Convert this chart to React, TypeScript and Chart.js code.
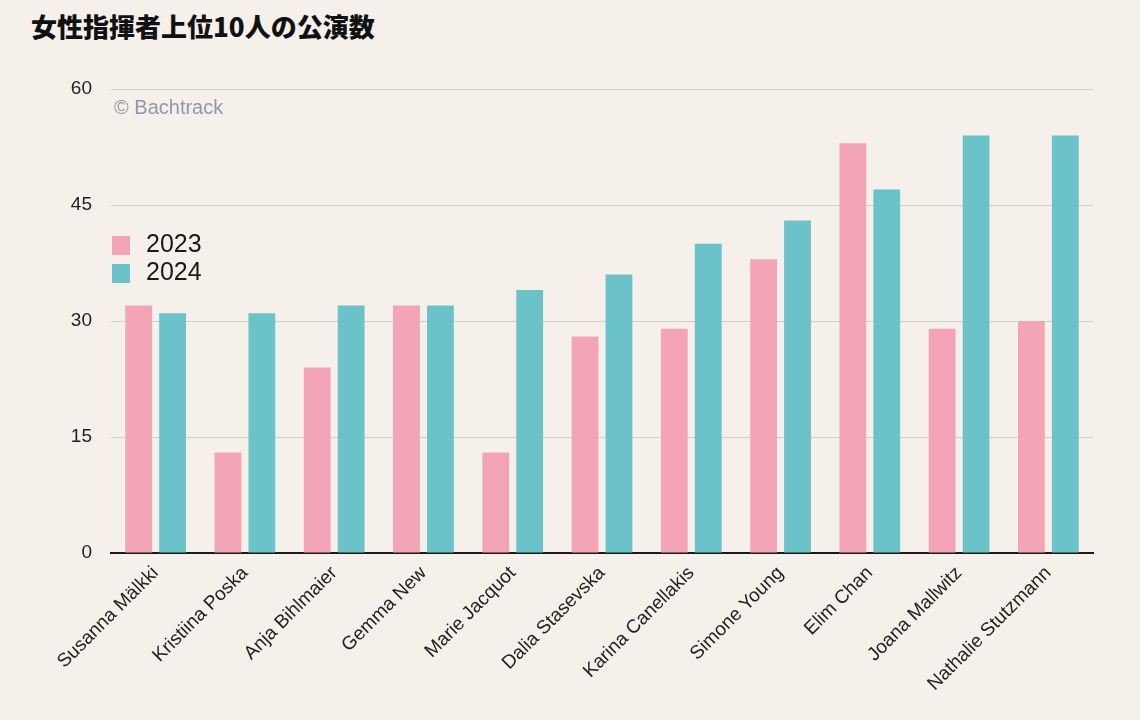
import React, { useEffect, useRef } from "react";
import { Chart, registerables } from "chart.js";

Chart.register(...registerables);

const TITLE = "女性指揮者上位10人の公演数";
const CONDUCTORS = [
  "Susanna Mälkki",
  "Kristiina Poska",
  "Anja Bihlmaier",
  "Gemma New",
  "Marie Jacquot",
  "Dalia Stasevska",
  "Karina Canellakis",
  "Simone Young",
  "Elim Chan",
  "Joana Mallwitz",
  "Nathalie Stutzmann",
];
const PERF_2023 = [32, 13, 24, 32, 13, 28, 29, 38, 53, 29, 30];
const PERF_2024 = [31, 31, 32, 32, 34, 36, 40, 43, 47, 54, 54];
const SERIES_LABELS = ["2023", "2024"];
const Y_TICKS = [0, 15, 30, 45, 60];
const WATERMARK = "© Bachtrack";

const BG = "#f5f1ea";
const PINK = "#f4a5b5";
const TEAL = "#6cc2c9";
const FONT = "'Liberation Sans', Arial, sans-serif";

const legendWatermarkPlugin = {
  id: "legendWatermark",
  afterDatasetsDraw(chart: any) {
    const { ctx, chartArea } = chart;
    ctx.save();
    // watermark
    ctx.fillStyle = "#9497a6";
    ctx.font = `20px ${FONT}`;
    ctx.textAlign = "left";
    ctx.textBaseline = "middle";
    ctx.fillText(WATERMARK, chartArea.left + 3, chartArea.top + 19);
    // legend
    const ds = chart.data.datasets;
    ctx.font = `25px ${FONT}`;
    for (let i = 0; i < ds.length; i++) {
      const y = chartArea.top + 156 + i * 28;
      ctx.fillStyle = ds[i].backgroundColor;
      ctx.fillRect(chartArea.left + 1, y - 9, 18, 19);
      ctx.fillStyle = "#1a1a1a";
      ctx.fillText(ds[i].label, chartArea.left + 35, y);
    }
    ctx.restore();
  },
};

export default function App() {
  const ref = useRef<HTMLCanvasElement | null>(null);

  useEffect(() => {
    document.body.style.margin = "0";
    document.body.style.background = BG;
    const canvas = ref.current;
    if (!canvas) return;
    const chart = new Chart(canvas, {
      type: "bar",
      data: {
        labels: CONDUCTORS,
        datasets: [
          {
            label: SERIES_LABELS[0],
            data: PERF_2023,
            backgroundColor: PINK,
            categoryPercentage: 0.76,
            barPercentage: 0.79,
          },
          {
            label: SERIES_LABELS[1],
            data: PERF_2024,
            backgroundColor: TEAL,
            categoryPercentage: 0.76,
            barPercentage: 0.79,
          },
        ],
      },
      options: {
        animation: false,
        responsive: false,
        maintainAspectRatio: false,
        layout: { padding: { top: 89, right: 47, left: 0, bottom: 0 } },
        plugins: {
          legend: { display: false },
          tooltip: { enabled: false },
          title: { display: false },
        },
        scales: {
          x: {
            grid: { display: false, drawTicks: false },
            border: { display: true, color: "#1a1a1a", width: 2 },
            ticks: {
              minRotation: 45,
              maxRotation: 45,
              padding: 9,
              color: "#222222",
              font: { family: FONT, size: 19 },
            },
            afterFit(scale: any) {
              scale.height = 167;
            },
          },
          y: {
            min: 0,
            max: 60,
            afterBuildTicks(scale: any) {
              scale.ticks = Y_TICKS.map((v) => ({ value: v }));
            },
            grid: {
              color: "#d3cfc8",
              lineWidth: 1,
              drawTicks: false,
            },
            border: { display: false },
            ticks: {
              padding: 19,
              color: "#222222",
              font: { family: FONT, size: 19 },
            },
            afterFit(scale: any) {
              scale.width = 111;
            },
          },
        },
      },
      plugins: [legendWatermarkPlugin],
    });
    return () => chart.destroy();
  }, []);

  return (
    <div style={{ position: "relative", width: 1140, height: 720, background: BG, overflow: "hidden" }}>
      <div
        style={{
          position: "absolute",
          left: 31,
          top: 8,
          fontFamily: "'Noto Sans CJK JP', sans-serif",
          fontWeight: 800,
          fontSize: 26,
          color: "#111111",
          lineHeight: "36px",
          whiteSpace: "nowrap",
        }}
      >
        {TITLE}
      </div>
      <canvas ref={ref} width={1140} height={720} style={{ position: "absolute", left: 0, top: 0, width: 1140, height: 720 }} />
    </div>
  );
}
